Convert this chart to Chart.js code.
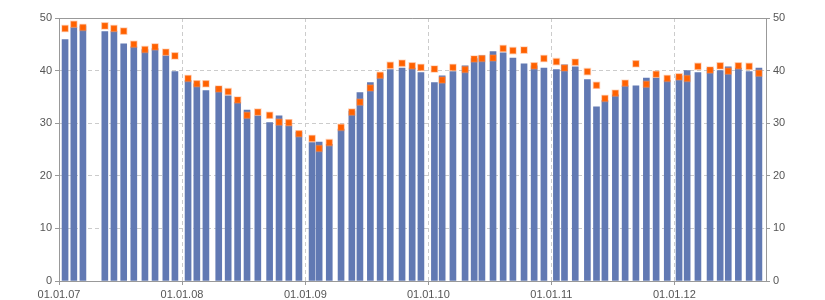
<!DOCTYPE html>
<html><head><meta charset="utf-8">
<script src="https://cdn.jsdelivr.net/npm/chart.js@4/dist/chart.umd.min.js"></script>
<style>html,body{margin:0;padding:0;background:#fff}#wrap{width:825px;height:300px;position:relative}</style>
</head><body><div id="wrap"><canvas id="c"></canvas></div>
<script>
const dates = [
'2007-01-19','2007-02-14','2007-03-13','2007-05-17','2007-06-13','2007-07-12','2007-08-11','2007-09-13','2007-10-13','2007-11-14','2007-12-11',
'2008-01-19','2008-02-14','2008-03-12','2008-04-19','2008-05-17','2008-06-14','2008-07-12','2008-08-13','2008-09-17','2008-10-15','2008-11-13','2008-12-13',
'2009-01-21','2009-02-11','2009-03-13','2009-04-17','2009-05-19','2009-06-12','2009-07-13','2009-08-11','2009-09-10','2009-10-15','2009-11-14','2009-12-10',
'2010-01-19','2010-02-11','2010-03-15','2010-04-20','2010-05-17','2010-06-09','2010-07-12','2010-08-11','2010-09-09','2010-10-12','2010-11-11','2010-12-10',
'2011-01-16','2011-02-09','2011-03-13','2011-04-18','2011-05-15','2011-06-09','2011-07-10','2011-08-08','2011-09-09','2011-10-10','2011-11-08','2011-12-11',
'2012-01-15','2012-02-08','2012-03-11','2012-04-16','2012-05-16','2012-06-09','2012-07-09','2012-08-10','2012-09-08'
];
const barValues = [
45.9,48.2,48.5,47.4,47.4,45.1,44.5,44.0,44.2,42.8,39.8,
38.1,37.5,36.2,36.9,35.2,33.9,32.5,31.4,30.1,31.4,29.5,28.3,
26.3,26.4,26.0,28.9,32.3,35.8,37.7,39.4,40.2,40.5,40.5,39.6,
37.7,39.0,39.8,40.9,42.3,42.8,43.6,43.4,42.4,41.3,40.9,40.5,
40.2,41.1,40.7,38.3,33.1,34.3,35.4,37.1,37.1,38.6,38.6,38.1,
39.0,40.0,39.6,40.5,40.0,40.7,40.5,39.8,40.5
];
const pointValues = [
48.0,48.8,48.2,48.5,48.0,47.5,45.0,44.0,44.5,43.5,42.8,
38.5,37.5,37.5,36.5,36.0,34.4,31.5,32.1,31.5,30.2,30.1,28.0,
27.1,25.2,26.3,29.2,32.1,34.0,36.7,39.1,41.0,41.4,40.9,40.6,
40.3,38.2,40.6,40.2,42.2,42.3,42.4,44.2,43.8,43.9,40.9,42.3,
41.7,40.5,41.6,39.8,37.2,34.7,35.7,37.6,41.3,37.4,39.3,38.5,
38.8,38.5,40.8,40.1,40.9,39.9,40.9,40.8,39.5
];
const yearTicks = ['2007-01-01','2008-01-01','2009-01-01','2010-01-01','2011-01-01','2012-01-01'];
const axisStart = '2007-01-01';
const axisEnd = '2012-09-29';
const yTicks = [0,10,20,30,40,50];

function dayNum(s){const p=s.split('-').map(Number);return Date.UTC(p[0],p[1]-1,p[2])/864e5;}
function fmt(v){const d=new Date(Math.round(v)*864e5);const dd=String(d.getUTCDate()).padStart(2,'0');const mm=String(d.getUTCMonth()+1).padStart(2,'0');const yy=String(d.getUTCFullYear()%100).padStart(2,'0');return dd+'.'+mm+'.'+yy;}

const barData = dates.map((d,i)=>({x:dayNum(d),y:barValues[i]}));
const pointData = dates.map((d,i)=>({x:dayNum(d),y:pointValues[i]}));
const font = {family:"'Liberation Sans', Arial, sans-serif", size:11};
const tickColor = '#555';
const axisColor = '#999';
const gridColor = '#cccccc';

const frame = {
  id:'frame',
  afterDatasetsDraw(chart){
    const {ctx, chartArea:a} = chart;
    ctx.save();
    ctx.strokeStyle = axisColor; ctx.lineWidth = 1;
    ctx.beginPath();
    const y = Math.round(a.top)+0.5;
    ctx.moveTo(a.left, y); ctx.lineTo(a.right, y);
    ctx.stroke();
    ctx.restore();
  }
};

new Chart(document.getElementById('c'), {
  type:'bar',
  data:{datasets:[
    {type:'line', data:pointData, showLine:false, pointStyle:'rect', pointRadius:4.3, pointHoverRadius:4.3,
     backgroundColor:'#ff6100', borderColor:'rgba(255,150,90,0.35)', pointBorderWidth:1.5, order:0, yAxisID:'y'},
    {type:'bar', data:barData, backgroundColor:'#6179b3', barThickness:6, borderWidth:0, order:1, yAxisID:'y'}
  ]},
  options:{
    responsive:true, maintainAspectRatio:false, animation:false,
    layout:{padding:{top:18,left:0,right:0,bottom:0}},
    plugins:{legend:{display:false}, tooltip:{enabled:false}},
    scales:{
      x:{type:'linear', min:dayNum(axisStart), max:dayNum(axisEnd), offset:false,
        grid:{offset:false, color:gridColor, tickColor:axisColor, tickLength:4, tickBorderDash:[]},
        border:{color:axisColor, dash:[4,3]},
        ticks:{font, color:tickColor, maxRotation:0, autoSkip:false, padding:3, callback:(v)=>fmt(v)},
        afterBuildTicks(s){s.ticks = yearTicks.map(t=>({value:dayNum(t)}));},
        afterFit(s){s.height = 19;}
      },
      y:{position:'left', min:0, max:50,
        grid:{color:gridColor, tickColor:axisColor, tickLength:4, tickBorderDash:[]},
        border:{color:axisColor, dash:[4,3]},
        ticks:{font, color:tickColor, padding:3},
        afterBuildTicks(s){s.ticks = yTicks.map(v=>({value:v}));},
        afterFit(s){s.width = 59;}
      },
      y2:{position:'right', min:0, max:50,
        grid:{drawOnChartArea:false, color:axisColor, tickColor:axisColor, tickLength:4},
        border:{color:axisColor},
        ticks:{font, color:tickColor, padding:3},
        afterBuildTicks(s){s.ticks = yTicks.map(v=>({value:v}));},
        afterFit(s){s.width = 59;}
      }
    }
  },
  plugins:[frame]
});
</script>
</body></html>
